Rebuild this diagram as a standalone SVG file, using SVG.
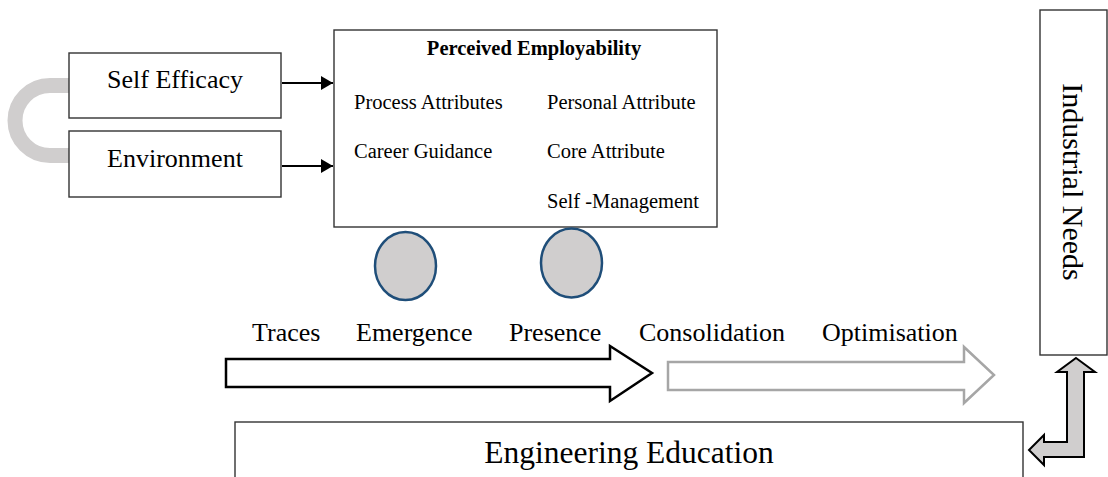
<svg xmlns="http://www.w3.org/2000/svg" width="1108" height="477" viewBox="0 0 1108 477">
<defs>
<style>
.box{fill:#fff;stroke:#333;stroke-width:1.4}
.t{font-family:"Liberation Serif","Times New Roman",serif;fill:#000}
.lbl{font-size:26px}
.in{font-size:20.5px}
.circ{fill:#d0cece;stroke:#1f4e79;stroke-width:2.5}
.conn{stroke:#000;stroke-width:2;fill:none}
</style>
<marker id="ah" viewBox="0 0 12 14" refX="12" refY="7" markerWidth="12" markerHeight="14" markerUnits="userSpaceOnUse" orient="auto">
<path d="M0 0 L12 7 L0 14 Z" fill="#000"/>
</marker>
</defs>
<rect width="1108" height="477" fill="#fff"/>
<g id="connectors">
<path d="M69 85.5 H50 A35 35 0 0 0 50 155.5 H69" fill="none" stroke="#d0cece" stroke-width="15"/>
<line class="conn" x1="282" y1="83" x2="333" y2="83" marker-end="url(#ah)"/>
<line class="conn" x1="282" y1="166" x2="333" y2="166" marker-end="url(#ah)"/>
<path d="M226 359 H610 V346 L652 373 L610 401 V387 H226 Z" fill="#fff" stroke="#000" stroke-width="2.5" stroke-linejoin="miter"/>
<path d="M668 362 H964 V347 L994 375 L964 403 V390 H668 Z" fill="#fff" stroke="#a6a6a6" stroke-width="2.5"/>
<path d="M1076 358 L1095 372 H1084 V457 H1044 V465 L1029 450 L1044 435 V442 H1067 V372 H1057 Z" fill="#d0cece" stroke="#000" stroke-width="2"/>
</g>
<g id="self-efficacy">
<rect class="box" x="69" y="53" width="212" height="65"/>
<text class="t lbl" x="175" y="88" text-anchor="middle">Self Efficacy</text>
</g>
<g id="environment">
<rect class="box" x="69" y="131" width="212" height="66"/>
<text class="t lbl" x="175" y="167" text-anchor="middle">Environment</text>
</g>
<g id="perceived-employability">
<rect class="box" x="334" y="30" width="383" height="197" stroke-width="1.6"/>
<text class="t in" x="534" y="55" text-anchor="middle" font-weight="bold">Perceived Employability</text>
<text class="t in" x="354" y="109">Process Attributes</text>
<text class="t in" x="547" y="109">Personal Attribute</text>
<text class="t in" x="354" y="158">Career Guidance</text>
<text class="t in" x="547" y="158">Core Attribute</text>
<text class="t in" x="547" y="208">Self -Management</text>
</g>
<g id="circle-1"><ellipse class="circ" cx="405.5" cy="266" rx="30.5" ry="34"/></g>
<g id="circle-2"><ellipse class="circ" cx="571.5" cy="263" rx="30.5" ry="34.5"/></g>
<g id="stages">
<text class="t lbl" x="252" y="341">Traces</text>
<text class="t lbl" x="356" y="341">Emergence</text>
<text class="t lbl" x="509" y="341">Presence</text>
<text class="t lbl" x="639" y="341">Consolidation</text>
<text class="t lbl" x="822" y="341">Optimisation</text>
</g>
<g id="industrial-needs">
<rect class="box" x="1040" y="10" width="67" height="345" stroke="#000" stroke-width="2"/>
<text class="t" font-size="30" transform="translate(1063 182) rotate(90)" text-anchor="middle">Industrial Needs</text>
</g>
<g id="engineering-education">
<rect class="box" x="235" y="422" width="788" height="70"/>
<text class="t" font-size="31.5" x="629" y="463" text-anchor="middle">Engineering Education</text>
</g>
</svg>
